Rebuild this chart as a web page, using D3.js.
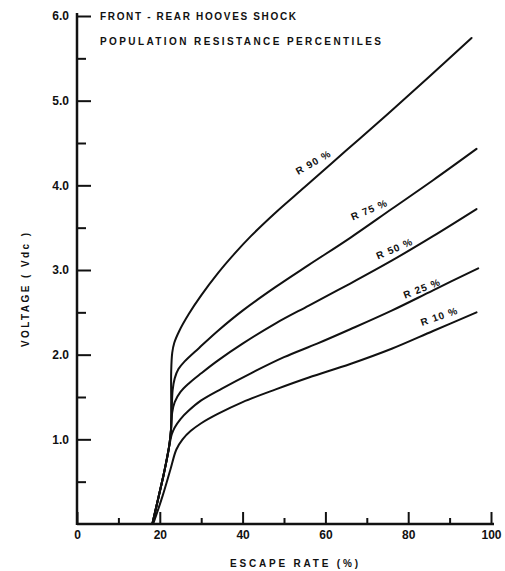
<!DOCTYPE html>
<html>
<head>
<meta charset="utf-8">
<script src="https://cdn.jsdelivr.net/npm/d3@7"></script>
<style>
  html, body { margin: 0; padding: 0; background: #fff; }
  svg text { font-family: "Liberation Sans", "DejaVu Sans", sans-serif; font-weight: bold; fill: #111; }
</style>
</head>
<body>
<svg id="chart" width="505" height="571"></svg>
<script>
// Escape rate (%) vs. shock voltage (Vdc) for each resistance percentile.
const seriesNames = ["R90", "R75", "R50", "R25", "R10"];
const labelTexts = ["R 90 %", "R 75 %", "R 50 %", "R 25 %", "R 10 %"];

const escapeR90 = [18.2, 19.7, 21.0, 22.2, 22.7, 22.75, 22.75, 23.0, 23.5, 24.7, 27.0, 30.0, 34.0, 38.0, 42.0, 48.0, 55.0, 65.0, 75.0, 85.0, 95.3];
const voltR90   = [0.00, 0.32, 0.60, 0.90, 1.11, 1.45, 1.80, 2.02, 2.14, 2.28, 2.48, 2.70, 2.96, 3.19, 3.40, 3.68, 3.98, 4.41, 4.84, 5.28, 5.74];

const escapeR75 = [18.2, 19.7, 21.0, 22.2, 22.7, 22.9, 23.1, 23.6, 24.5, 26.0, 29.5, 34.0, 40.0, 48.0, 56.0, 66.0, 76.0, 86.0, 96.5];
const voltR75   = [0.00, 0.32, 0.60, 0.90, 1.11, 1.38, 1.58, 1.72, 1.83, 1.92, 2.08, 2.28, 2.52, 2.80, 3.06, 3.38, 3.72, 4.06, 4.43];

const escapeR50 = [18.2, 19.7, 21.0, 22.2, 22.7, 23.0, 23.6, 25.0, 27.0, 30.0, 34.0, 40.0, 48.0, 56.0, 66.0, 76.0, 86.0, 96.5];
const voltR50   = [0.00, 0.32, 0.60, 0.90, 1.11, 1.32, 1.44, 1.56, 1.66, 1.78, 1.93, 2.13, 2.37, 2.58, 2.84, 3.11, 3.40, 3.72];

const escapeR25 = [18.2, 19.7, 21.0, 22.2, 22.9, 23.6, 25.0, 27.0, 30.0, 35.0, 42.0, 50.0, 58.0, 66.0, 76.0, 86.0, 96.9];
const voltR25   = [0.00, 0.32, 0.60, 0.90, 1.06, 1.14, 1.24, 1.34, 1.46, 1.60, 1.78, 1.97, 2.13, 2.30, 2.52, 2.76, 3.02];

const escapeR10 = [18.4, 20.6, 22.6, 24.0, 25.5, 27.5, 30.0, 34.0, 40.0, 48.0, 56.0, 66.0, 76.0, 86.0, 96.5];
const voltR10   = [0.00, 0.32, 0.65, 0.88, 1.00, 1.10, 1.19, 1.30, 1.44, 1.59, 1.73, 1.89, 2.07, 2.28, 2.50];

// Where each percentile label sits (escape rate, voltage) and its tilt.
const labelEscape = [57.0, 70.5, 76.6, 83.2, 87.4];
const labelVolt   = [4.27, 3.71, 3.25, 2.78, 2.45];
const labelAngle  = [-30, -23, -23, -21, -19];

const xMajorTicks = [0, 20, 40, 60, 80, 100];
const xMinorTicks = [10, 30, 50, 70, 90];
const yMajorTicks = [1, 2, 3, 4, 5, 6];
const yMinorTicks = [0.5, 1.5, 2.5, 3.5, 4.5, 5.5];

const titleLines = ["FRONT - REAR HOOVES SHOCK", "POPULATION RESISTANCE PERCENTILES"];
const xTitle = "ESCAPE RATE (%)";
const yTitle = "VOLTAGE ( Vdc )";

const series = [
  { name: seriesNames[0], xs: escapeR90, vs: voltR90 },
  { name: seriesNames[1], xs: escapeR75, vs: voltR75 },
  { name: seriesNames[2], xs: escapeR50, vs: voltR50 },
  { name: seriesNames[3], xs: escapeR25, vs: voltR25 },
  { name: seriesNames[4], xs: escapeR10, vs: voltR10 }
];

const svg = d3.select("#chart");
const x = d3.scaleLinear().domain([0, 100]).range([77, 491]);
const y = d3.scaleLinear().domain([0, 6]).range([524, 16]);

// Curves
const line = d3.line()
  .x(d => x(d[0]))
  .y(d => y(d[1]))
  .curve(d3.curveCatmullRom.alpha(0.5));

svg.append("g").selectAll("path")
  .data(series)
  .join("path")
  .attr("d", s => line(s.xs.map((v, i) => [v, s.vs[i]])))
  .attr("fill", "none")
  .attr("stroke", "#111")
  .attr("stroke-width", 2)
  .attr("stroke-linejoin", "round")
  .attr("stroke-linecap", "round");

// Axes: ticks point inward
const gx = svg.append("g").attr("transform", `translate(0,${y(0)})`);
gx.call(d3.axisBottom(x).tickValues(xMajorTicks).tickSize(-12).tickPadding(6)
  .tickFormat(d3.format("d")));
const gxMinor = svg.append("g").attr("transform", `translate(0,${y(0)})`);
gxMinor.call(d3.axisBottom(x).tickValues(xMinorTicks).tickSize(-6).tickFormat(""));

const gy = svg.append("g").attr("transform", `translate(${x(0)},0)`);
gy.call(d3.axisLeft(y).tickValues(yMajorTicks).tickSize(-14).tickPadding(8)
  .tickFormat(d3.format(".1f")));
const gyMinor = svg.append("g").attr("transform", `translate(${x(0)},0)`);
gyMinor.call(d3.axisLeft(y).tickValues(yMinorTicks).tickSize(-9).tickFormat(""));

svg.selectAll(".domain").remove();
svg.selectAll(".tick line").attr("stroke", "#111").attr("stroke-width", 2);
gx.selectAll(".tick text").attr("font-size", 12).attr("dy", "0.72em");
gy.selectAll(".tick text").attr("font-size", 12);

// Axis lines
svg.append("line")
  .attr("x1", x(0)).attr("x2", x(100) + 3)
  .attr("y1", y(0)).attr("y2", y(0))
  .attr("stroke", "#111").attr("stroke-width", 2.5);
svg.append("line")
  .attr("x1", x(0)).attr("x2", x(0))
  .attr("y1", y(0) + 1).attr("y2", y(6) - 3)
  .attr("stroke", "#111").attr("stroke-width", 2.5);

// Title block
svg.append("text").attr("x", 100).attr("y", 20).attr("font-size", 10)
  .attr("textLength", 196).attr("lengthAdjust", "spacing").text(titleLines[0]);
svg.append("text").attr("x", 100).attr("y", 45).attr("font-size", 10)
  .attr("textLength", 281).attr("lengthAdjust", "spacing").text(titleLines[1]);

// Axis titles
svg.append("text").attr("x", 230).attr("y", 567).attr("font-size", 10)
  .attr("textLength", 128).attr("lengthAdjust", "spacing").text(xTitle);
svg.append("text")
  .attr("transform", "translate(29,290) rotate(-90)")
  .attr("text-anchor", "middle").attr("font-size", 10)
  .attr("textLength", 114).attr("lengthAdjust", "spacing").text(yTitle);

// Percentile labels along the curves
svg.append("g").selectAll("text")
  .data(labelTexts)
  .join("text")
  .attr("transform", (d, i) => `translate(${x(labelEscape[i])},${y(labelVolt[i])}) rotate(${labelAngle[i]})`)
  .attr("text-anchor", "middle")
  .attr("dy", "0.35em")
  .attr("font-size", 10)
  .attr("textLength", 38).attr("lengthAdjust", "spacing")
  .text(d => d);
</script>
</body>
</html>
